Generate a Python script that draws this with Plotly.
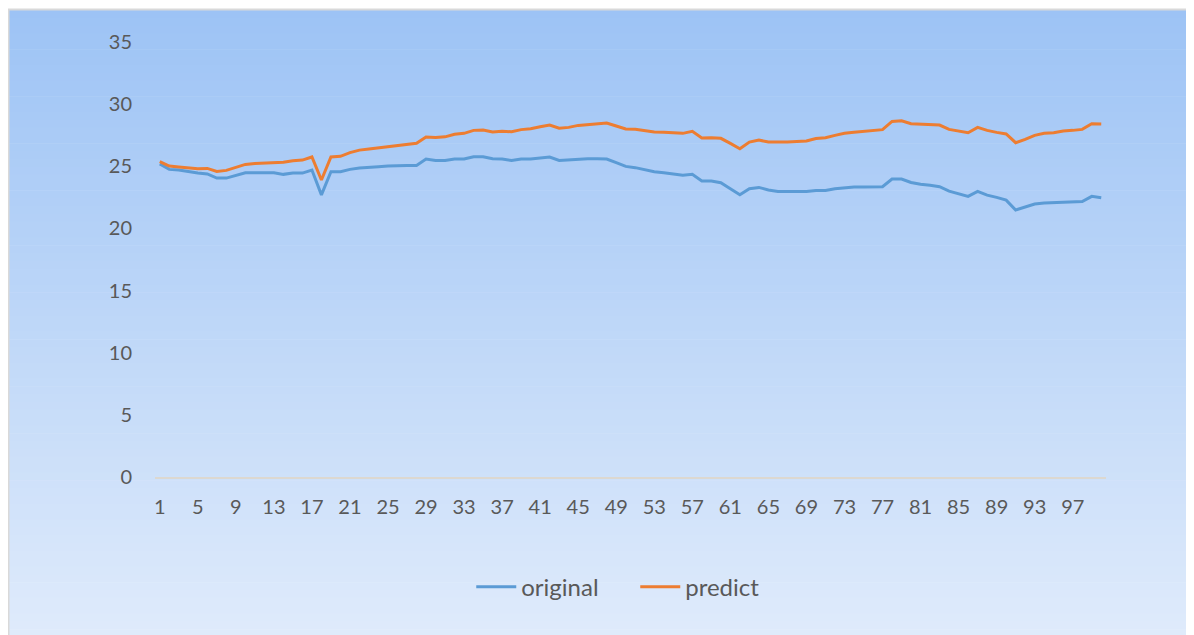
import plotly.graph_objects as go

# category axis 1..100
periods = list(range(1, 101))

original = [
    25.18, 24.75, 24.70, 24.56, 24.46, 24.38, 24.05, 24.05, 24.27, 24.48,
    24.48, 24.48, 24.48, 24.35, 24.45, 24.45, 24.70, 22.70, 24.56, 24.56,
    24.75, 24.86, 24.94, 24.97, 25.02, 25.07, 25.07, 25.07, 25.58, 25.47,
    25.47, 25.58, 25.58, 25.77, 25.77, 25.60, 25.58, 25.47, 25.58, 25.58,
    25.66, 25.74, 25.47, 25.52, 25.60, 25.60, 25.60, 25.58, 25.29, 24.99,
    24.89, 24.72, 24.56, 24.48, 24.38, 24.27, 24.35, 23.81, 23.81, 23.68,
    23.20, 22.71, 23.20, 23.30, 23.09, 22.98, 22.98, 22.98, 22.98, 23.06,
    23.06, 23.20, 23.28, 23.33, 23.33, 23.36, 23.36, 23.97, 23.97, 23.70,
    23.55, 23.47, 23.36, 23.00, 22.80, 22.58, 22.98, 22.68, 22.50, 22.28,
    21.48, 21.70, 21.96, 22.04, 22.07, 22.15, 22.15, 22.17, 22.58, 22.47,
]

predict = [
    25.37, 25.02, 24.94, 24.86, 24.80, 24.83, 24.59, 24.67, 24.92, 25.15,
    25.23, 25.26, 25.32, 25.32, 25.45, 25.50, 25.75, 23.90, 25.75, 25.80,
    26.10, 26.30, 26.40, 26.50, 26.60, 26.70, 26.77, 26.85, 27.35, 27.32,
    27.37, 27.57, 27.65, 27.89, 27.92, 27.76, 27.81, 27.78, 27.95, 28.02,
    28.18, 28.32, 28.07, 28.13, 28.29, 28.37, 28.42, 28.48, 28.24, 28.00,
    27.97, 27.84, 27.76, 27.73, 27.67, 27.65, 27.81, 27.27, 27.30, 27.25,
    26.84, 26.41, 26.95, 27.11, 26.95, 26.92, 26.95, 27.00, 27.03, 27.24,
    27.30, 27.49, 27.65, 27.73, 27.81, 27.92, 27.95, 28.61, 28.66, 28.42,
    28.37, 28.37, 28.32, 27.97, 27.84, 27.70, 28.13, 27.89, 27.73, 27.60,
    26.90, 27.16, 27.49, 27.65, 27.70, 27.84, 27.89, 27.97, 28.42, 28.40,
]

tick_vals = list(range(1, 101, 4))

# page body has an 8px margin, so the figure is a bit smaller than the window
W, H = 1186, 627
L, T = 147, 34
pw, ph = 951, 435
R, B = W - L - pw, H - T - ph


def px_to_paper(x, y):
    return (x - L) / pw, (H - B - y) / ph


# vertical gradient background (Excel style), built from thin strips
top_rgb = (157, 195, 245)
bot_rgb = (223, 235, 251)
y0_px, y1_px = 2, H + 2
n = 80
shapes = []
for k in range(n):
    t = k / (n - 1)
    c = tuple(round(a + (b - a) * t) for a, b in zip(top_rgb, bot_rgb))
    ya = y0_px + (y1_px - y0_px) * k / n
    yb = y0_px + (y1_px - y0_px) * (k + 1) / n + 0.6
    xa, pa = px_to_paper(1, ya)
    xb, pb = px_to_paper(W + 2, yb)
    shapes.append(dict(
        type="rect", xref="paper", yref="paper", layer="below",
        x0=xa, x1=xb, y0=pb, y1=pa, line=dict(width=0),
        fillcolor="rgb(%d,%d,%d)" % c,
    ))

# chart border (left + top visible)
bx, by = px_to_paper(0.5, 1.5)
bx2, by2 = px_to_paper(W + 5, H + 5)
shapes.append(dict(
    type="rect", xref="paper", yref="paper", layer="below",
    x0=bx, x1=bx2, y0=by2, y1=by,
    line=dict(color="#D9D9D9", width=2), fillcolor="rgba(0,0,0,0)",
))

fig = go.Figure()
fig.add_trace(go.Scatter(
    x=periods, y=original, name="original", mode="lines",
    line=dict(color="#5B9BD5", width=3),
))
fig.add_trace(go.Scatter(
    x=periods, y=predict, name="predict", mode="lines",
    line=dict(color="#ED7D31", width=3),
))

font_family = "Lato, 'Open Sans', sans-serif"
fig.update_layout(
    width=W, height=H,
    margin=dict(l=L, r=R, t=T, b=B, autoexpand=False),
    paper_bgcolor="white",
    plot_bgcolor="rgba(0,0,0,0)",
    font=dict(family=font_family, color="#595959", size=20),
    shapes=shapes,
    showlegend=True,
    legend=dict(
        orientation="h", x=0.505, xanchor="center", y=-0.253, yanchor="middle",
        font=dict(size=24, color="#595959"), bgcolor="rgba(0,0,0,0)",
        itemwidth=40, tracegroupgap=0,
        entrywidth=109, entrywidthmode="pixels",
    ),
    xaxis=dict(
        range=[0.5, 100.5], tickmode="array", tickvals=tick_vals,
        ticktext=[str(v) for v in tick_vals], showgrid=False, zeroline=False,
        showline=True, linecolor="#DCD8D0", linewidth=1.5, ticks="",
        ticklabelstandoff=11, tickfont=dict(size=20, color="#595959"),
    ),
    yaxis=dict(
        range=[0, 35], dtick=5, tick0=0, showgrid=False, zeroline=False,
        showline=False, ticks="", ticklabelstandoff=22,
        tickfont=dict(size=20, color="#595959"),
    ),
)

fig.write_html("out.html")
